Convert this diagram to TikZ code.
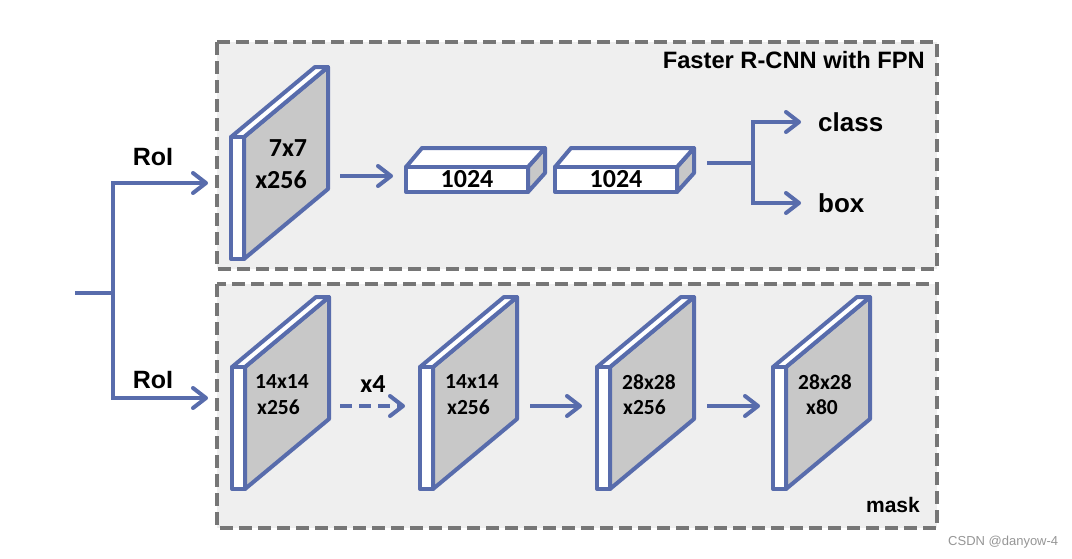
\documentclass[tikz,border=0pt]{standalone}
\usepackage{fontspec}
\setmainfont{Liberation Sans}
\newfontfamily\numfont{Carlito}
\usetikzlibrary{arrows.meta}
\definecolor{myblue}{RGB}{88,108,172}
\definecolor{sidegray}{RGB}{200,200,200}
\definecolor{bggray}{RGB}{239,239,239}
\definecolor{dashgray}{RGB}{118,118,118}
\definecolor{wmgray}{RGB}{150,150,150}
\tikzset{
  dashbox/.style={draw=dashgray, fill=bggray, line width=3.5pt, dash pattern=on 13pt off 6pt},
  slabline/.style={draw=myblue, line width=4pt, line join=round},
  wire/.style={draw=myblue, line width=4pt},
  conn/.style={draw=myblue, line width=4pt, -{Straight Barb[length=13pt,width=20pt,round]}},
  lbl/.style={inner sep=0pt, font=\bfseries\fontsize{25}{28}\selectfont},
  num/.style={inner sep=0pt, font=\numfont\bfseries\fontsize{21.5}{24}\selectfont},
  bignum/.style={inner sep=0pt, font=\numfont\bfseries\fontsize{26}{29}\selectfont},
  slab/.pic={
    \path[slabline, fill=sidegray] (13,0) -- (97,-70) -- (97,52) -- (13,122) -- cycle;
    \path[slabline, fill=white] (0,0) -- (13,0) -- (97,-70) -- (84,-70) -- cycle;
    \path[slabline, fill=white] (0,0) rectangle (13,122);
  },
  fcbox/.pic={
    \path[slabline, fill=sidegray] (122,0) -- (139,-19) -- (139,6) -- (122,25) -- cycle;
    \path[slabline, fill=white] (0,0) -- (16,-19) -- (139,-19) -- (122,0) -- cycle;
    \path[slabline, fill=white] (0,0) rectangle (122,25);
  }
}
\begin{document}
\begin{tikzpicture}[x=1pt,y=-1pt]
\useasboundingbox[fill=white] (0,0) rectangle (1072,558);
% dashed panels
\path[dashbox] (217,42) rectangle (937,269);
\path[dashbox] (217,284) rectangle (937,528);
\node[lbl, anchor=east, font=\bfseries\fontsize{23.7}{27}\selectfont] (title) at (925,60) {Faster R-CNN with FPN};
\node[lbl, anchor=east, font=\bfseries\fontsize{21}{24}\selectfont] (mask) at (920,505) {mask};

% top branch
\pic at (231,137) {slab};
\node[bignum] (t77) at (288,148) {7x7};
\node[bignum] (t256) at (281,180) {x256};
\pic at (406,167) {fcbox};
\node[bignum] (fc1) at (467,179) {1024};
\pic at (555,167) {fcbox};
\node[bignum] (fc2) at (616,179) {1024};

% mask branch
\pic at (232,367) {slab};
\node[num, anchor=west] (m1a) at (255,382) {14x14};
\node[num, anchor=west] (m1b) at (257,407) {x256};
\pic at (420,367) {slab};
\node[num, anchor=west] (m2a) at (445,382) {14x14};
\node[num, anchor=west] (m2b) at (447,407) {x256};
\pic at (597,367) {slab};
\node[num, anchor=west] (m3a) at (622,382) {28x28};
\node[num, anchor=west] (m3b) at (623,407) {x256};
\pic at (773,367) {slab};
\node[num, anchor=west] (m4a) at (798,382) {28x28};
\node[num, anchor=west] (m4b) at (806,407) {x80};

% coordinates for connectors
\coordinate (inL) at (75,293);
\coordinate (split) at (113,293);
\coordinate (roiTop) at (208,183);
\coordinate (roiBot) at (208,398);
\coordinate (a1s) at (340,176);
\coordinate (a1e) at (393,176);
\coordinate (fcOut) at (707,163);
\coordinate (fork) at (753,163);
\coordinate (clsEnd) at (801,122);
\coordinate (boxEnd) at (801,203);
\coordinate (x4s) at (340,406);
\coordinate (x4e) at (405,406);
\coordinate (b2s) at (530,406);
\coordinate (b2e) at (582,406);
\coordinate (b3s) at (707,406);
\coordinate (b3e) at (760,406);

\draw[wire] (inL) -- (split);
\draw[conn] (split) |- (roiTop);
\draw[conn] (split) |- (roiBot);
\node[lbl] (roi1) at (153,157) {RoI};
\node[lbl] (roi2) at (153,380) {RoI};

\draw[conn] (a1s) -- (a1e);
\draw[wire] (fcOut) -- (fork);
\draw[conn] (fork) |- (clsEnd);
\draw[conn] (fork) |- (boxEnd);
\node[lbl, anchor=west, font=\bfseries\fontsize{26}{29}\selectfont] (cls) at (818,122) {class};
\node[lbl, anchor=west, font=\bfseries\fontsize{26}{29}\selectfont] (box) at (818,203) {box};

\draw[conn, dash pattern=on 12pt off 7pt] (x4s) -- (x4e);
\node[bignum] (x4) at (373,384) {x4};
\draw[conn] (b2s) -- (b2e);
\draw[conn] (b3s) -- (b3e);

\node[inner sep=0pt, anchor=west, text=wmgray, font=\fontsize{13}{15}\selectfont] (wm) at (948,542) {CSDN @danyow-4};
\end{tikzpicture}
\end{document}
